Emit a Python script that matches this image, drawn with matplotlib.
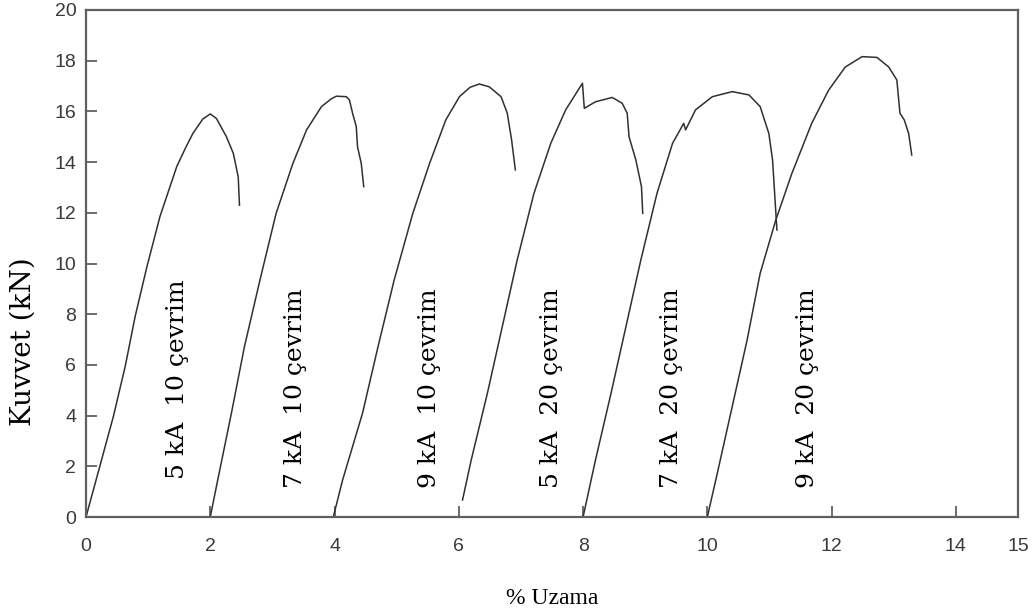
import matplotlib
matplotlib.use("Agg")
import matplotlib.pyplot as plt

# curvas fuerza-alargamiento (x: % uzama, y: kN)
x_5ka10 = [0, 0.22, 0.44, 0.63, 0.79, 0.98, 1.19, 1.46, 1.6, 1.72, 1.88, 2.0, 2.1, 2.2, 2.26, 2.37, 2.45, 2.47]
y_5ka10 = [0, 1.98, 3.96, 5.93, 7.9, 9.87, 11.85, 13.82, 14.55, 15.13, 15.7, 15.9, 15.72, 15.27, 15.0, 14.35, 13.42, 12.3]

x_7ka10 = [2.0, 2.12, 2.34, 2.55, 2.8, 3.06, 3.33, 3.55, 3.79, 3.95, 4.03, 4.19, 4.24, 4.29, 4.35, 4.37, 4.43, 4.47]
y_7ka10 = [0, 1.46, 4.09, 6.72, 9.35, 11.98, 13.95, 15.27, 16.19, 16.5, 16.6, 16.58, 16.45, 15.93, 15.4, 14.6, 13.95, 13.03]

x_9ka10 = [3.98, 4.13, 4.45, 4.70, 4.96, 5.26, 5.53, 5.79, 6.01, 6.18, 6.33, 6.49, 6.68, 6.78, 6.85, 6.91]
y_9ka10 = [0, 1.46, 4.09, 6.72, 9.35, 11.98, 13.95, 15.66, 16.58, 16.95, 17.08, 16.97, 16.58, 15.93, 14.87, 13.69]

x_5ka20 = [6.06, 6.2, 6.46, 6.70, 6.94, 7.21, 7.48, 7.72, 7.99, 8.02, 8.2, 8.47, 8.63, 8.71, 8.74, 8.85, 8.94, 8.96]
y_5ka20 = [0.67, 2.25, 4.88, 7.51, 10.14, 12.77, 14.74, 16.06, 17.11, 16.12, 16.38, 16.55, 16.32, 15.93, 15.0, 14.08, 13.03, 11.98]

x_7ka20 = [8.0, 8.2, 8.45, 8.69, 8.93, 9.19, 9.44, 9.62, 9.65, 9.81, 10.08, 10.4, 10.67, 10.85, 10.99, 11.05, 11.09, 11.12]
y_7ka20 = [0, 2.25, 4.88, 7.51, 10.14, 12.77, 14.74, 15.53, 15.27, 16.06, 16.58, 16.78, 16.65, 16.19, 15.13, 14.08, 12.5, 11.32]

x_9ka20 = [10.0, 10.16, 10.4, 10.64, 10.85, 11.1, 11.36, 11.68, 11.95, 12.22, 12.49, 12.73, 12.92, 13.05, 13.1, 13.17, 13.24, 13.29]
y_9ka20 = [0, 1.72, 4.35, 6.98, 9.61, 11.7, 13.55, 15.53, 16.83, 17.75, 18.16, 18.13, 17.75, 17.24, 15.93, 15.66, 15.13, 14.28]

labels = ["5 kA  10 çevrim", "7 kA  10 çevrim", "9 kA  10 çevrim",
          "5 kA  20 çevrim", "7 kA  20 çevrim", "9 kA  20 çevrim"]
label_x = [1.47, 3.37, 5.53, 7.49, 9.42, 11.61]
label_y = [1.5, 1.15, 1.15, 1.15, 1.15, 1.15]

x_ticks = [0, 2, 4, 6, 8, 10, 12, 14, 15]
y_ticks = [0, 2, 4, 6, 8, 10, 12, 14, 16, 18, 20]

curves = [(x_5ka10, y_5ka10), (x_7ka10, y_7ka10), (x_9ka10, y_9ka10),
          (x_5ka20, y_5ka20), (x_7ka20, y_7ka20), (x_9ka20, y_9ka20)]

fig = plt.figure(figsize=(10.32, 6.16), dpi=100)
ax = fig.add_axes([86 / 1032, 1 - 517 / 616, 932 / 1032, 507 / 616])

for cx, cy in curves:
    ax.plot(cx, cy, color="#303030", lw=1.1)

for txt, tx, ty in zip(labels, label_x, label_y):
    ax.text(tx, ty, txt, rotation=90, ha="center", va="bottom",
            fontsize=18, family="DejaVu Serif", color="black")

ax.set_xlim(0, 15)
ax.set_ylim(0, 20)
ax.set_xticks(x_ticks)
ax.set_yticks(y_ticks)

ax.tick_params(direction="in", length=8, width=1.3, color="#606060",
               labelcolor="#3a3a3a", labelsize=14)
ax.tick_params(axis="x", pad=15)
ax.tick_params(axis="y", pad=7)
for lab in ax.get_xticklabels() + ax.get_yticklabels():
    lab.set_family("Liberation Sans")

for sp in ax.spines.values():
    sp.set_color("#606060")
    sp.set_linewidth(1.6)

ax.set_xlabel("% Uzama", family="Liberation Serif", fontsize=17, va="center")
ax.xaxis.set_label_coords(0.5, -0.16)
ax.set_ylabel("Kuvvet (kN)", family="DejaVu Serif", fontsize=20, va="center")
ax.yaxis.set_label_coords(-0.0676, 0.345)

fig.savefig("out.png", dpi=100)
